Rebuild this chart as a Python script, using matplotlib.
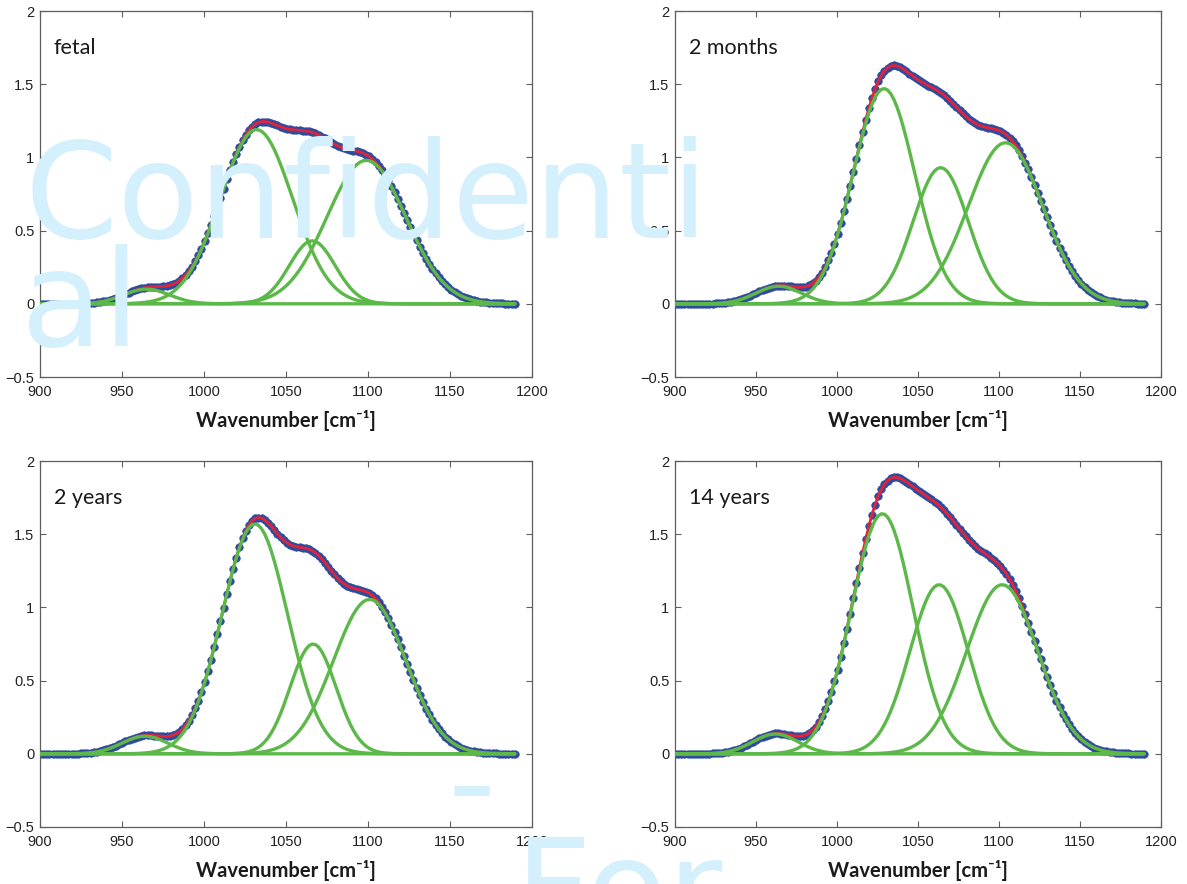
import numpy as np
import matplotlib
matplotlib.use("Agg")
import matplotlib.pyplot as plt

# ---------------- data ----------------
panel_titles = ["fetal", "2 months", "2 years", "14 years"]

# Gaussian band components: centre [cm-1], height, width (sigma, cm-1)
fetal_centers = [965, 1032, 1066, 1099]
fetal_heights = [0.10, 1.19, 0.43, 0.98]
fetal_widths = [14, 22, 14, 24]

months2_centers = [964, 1029, 1064, 1104]
months2_heights = [0.12, 1.47, 0.93, 1.10]
months2_widths = [14, 19, 17, 23]

years2_centers = [964, 1031, 1066.5, 1101]
years2_heights = [0.12, 1.57, 0.75, 1.055]
years2_widths = [14, 20, 14, 22]

years14_centers = [962, 1028, 1063, 1102]
years14_heights = [0.135, 1.64, 1.155, 1.155]
years14_widths = [14, 19, 18, 22]

wn_start, wn_stop, wn_step = 900, 1190, 1.93

x_ticks = [900, 950, 1000, 1050, 1100, 1150, 1200]
y_ticks = [-0.5, 0, 0.5, 1, 1.5, 2]
y_tick_labels = ["\u22120.5", "0", "0.5", "1", "1.5", "2"]
x_label = "Wavenumber [cm\u207b\u00b9]"

panels = [
    (fetal_centers, fetal_heights, fetal_widths),
    (months2_centers, months2_heights, months2_widths),
    (years2_centers, years2_heights, years2_widths),
    (years14_centers, years14_heights, years14_widths),
]

# ---------------- figure ----------------
W, H = 1187, 884
fig = plt.figure(figsize=(W / 100, H / 100), dpi=100)

boxes = [(40, 377, 492), (675, 377, 486), (40, 827, 492), (675, 827, 486)]
AX_H = 366

blue = "#2e4b9e"
red = "#e2243b"
green = "#5db84a"
spine_c = "#5e5e5e"

wn = np.arange(wn_start, wn_stop + 0.01, wn_step)

for (left, bottom, width), title, (cs, hs, ws) in zip(boxes, panel_titles, panels):
    ax = fig.add_axes([left / W, 1 - bottom / H, width / W, AX_H / H])
    comps = [h * np.exp(-((wn - c) ** 2) / (2 * s ** 2)) for c, h, s in zip(cs, hs, ws)]
    total = np.sum(comps, axis=0)
    ax.plot(wn, total, "o", ms=5.4, color=blue, mec=blue, mew=0.5, zorder=1)
    ax.plot(wn, total, "-", color=red, lw=2.0, zorder=2)
    for comp in comps:
        ax.plot(wn, comp, "-", color=green, lw=2.4, zorder=3, solid_capstyle="round")

    ax.set_xlim(900, 1200)
    ax.set_ylim(-0.5, 2)
    ax.set_xticks(x_ticks)
    ax.set_yticks(y_ticks)
    ax.set_yticklabels(y_tick_labels)
    ax.tick_params(axis="x", pad=6)
    ax.tick_params(axis="y", pad=4)
    ax.tick_params(direction="in", length=4, width=0.8, color=spine_c,
                   top=True, right=True, labelsize=10.5,
                   labelcolor="#222222")
    for lab in ax.get_xticklabels() + ax.get_yticklabels():
        lab.set_family("Liberation Sans")
    for sp in ax.spines.values():
        sp.set_color(spine_c)
        sp.set_linewidth(0.9)
    ax.set_xlabel(x_label, fontsize=14.5, fontweight="bold",
                  family=["Lato", "DejaVu Sans"], labelpad=8, color="#1a1a1a")
    ax.text(14 / width, 1 - 43 / AX_H, title, transform=ax.transAxes,
            fontsize=15.5, family=["Lato", "DejaVu Sans"], va="baseline",
            ha="left", color="#1a1a1a")

# ---------------- watermark ----------------
wm_color = "#d4f0fc"
wm_size = 96
fig.text(25 / W, 1 - 238 / H, "Confidenti", fontsize=wm_size, color=wm_color,
         family="DejaVu Sans", va="baseline", ha="left", zorder=20)
fig.text(21 / W, 1 - 346 / H, "al", fontsize=wm_size, color=wm_color,
         family="DejaVu Sans", va="baseline", ha="left", zorder=20)
fig.text(447 / W, 1 - 827 / H, "-", fontsize=wm_size, color=wm_color,
         family="DejaVu Sans", va="baseline", ha="left", zorder=20)
fig.text(515 / W, 1 - 935 / H, "For", fontsize=wm_size, color=wm_color,
         family="DejaVu Sans", va="baseline", ha="left", zorder=20)

fig.savefig("out.png", dpi=100)
